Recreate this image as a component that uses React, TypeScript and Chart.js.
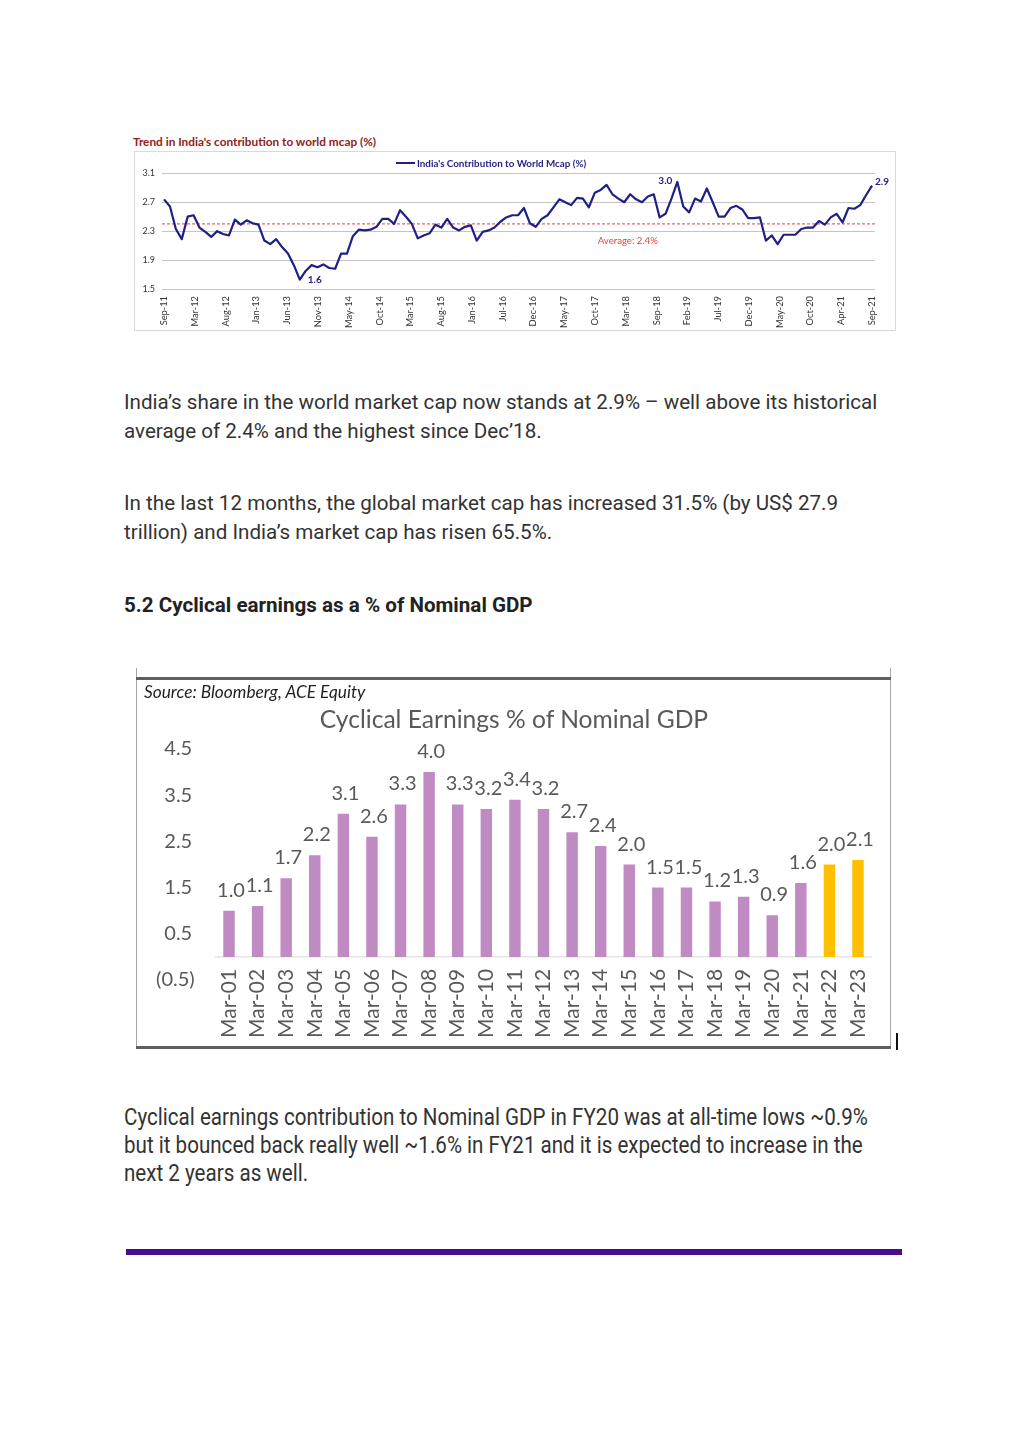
import React, { useEffect, useRef } from "react";
import { Chart, registerables } from "chart.js";

Chart.register(...registerables);

// ---------- Chart 1: India's contribution to world mcap (%) ----------
const mcapTickLabels = [
  "Sep-11", "Mar-12", "Aug-12", "Jan-13", "Jun-13", "Nov-13", "May-14", "Oct-14",
  "Mar-15", "Aug-15", "Jan-16", "Jul-16", "Dec-16", "May-17", "Oct-17", "Mar-18",
  "Sep-18", "Feb-19", "Jul-19", "Dec-19", "May-20", "Oct-20", "Apr-21", "Sep-21",
];

// monthly values, Sep-11 .. Sep-21
const mcapValues = [
  2.74, 2.64, 2.33, 2.19, 2.50, 2.52, 2.35, 2.29, 2.22, 2.30,
  2.26, 2.24, 2.46, 2.39, 2.45, 2.41, 2.39, 2.17, 2.12, 2.19,
  2.08, 1.99, 1.83, 1.63, 1.75, 1.83, 1.80, 1.84, 1.79, 1.78,
  1.99,
  1.99, 2.23, 2.32, 2.31, 2.32, 2.36, 2.47, 2.47, 2.40, 2.59,
  2.50, 2.40, 2.20, 2.24, 2.27, 2.39, 2.35, 2.47, 2.35, 2.31,
  2.36, 2.38, 2.17, 2.29, 2.31, 2.35, 2.43, 2.49, 2.52, 2.52,
  2.62,
  2.41, 2.36, 2.47, 2.52, 2.63, 2.74, 2.70, 2.66, 2.76, 2.75,
  2.63, 2.83, 2.87, 2.94, 2.81, 2.75, 2.70, 2.81, 2.74, 2.70,
  2.78, 2.81, 2.49, 2.54, 2.75, 2.98, 2.64, 2.56, 2.75, 2.71,
  2.89,
  2.70, 2.50, 2.50, 2.62, 2.65, 2.60, 2.48, 2.48, 2.49, 2.17,
  2.24, 2.12, 2.25, 2.25, 2.25, 2.33, 2.35, 2.35, 2.44, 2.39,
  2.49, 2.54, 2.42, 2.62, 2.61, 2.66, 2.80, 2.93,
];

const mcapYTicks = [1.5, 1.9, 2.3, 2.7, 3.1];
const mcapAverage = 2.4;
const mcapSeriesName = "India's Contribution to World Mcap (%)";

// ---------- Chart 2: Cyclical earnings % of nominal GDP ----------
const gdpYears = [
  "Mar-01", "Mar-02", "Mar-03", "Mar-04", "Mar-05", "Mar-06", "Mar-07", "Mar-08",
  "Mar-09", "Mar-10", "Mar-11", "Mar-12", "Mar-13", "Mar-14", "Mar-15", "Mar-16",
  "Mar-17", "Mar-18", "Mar-19", "Mar-20", "Mar-21", "Mar-22", "Mar-23",
];
const gdpValues = [
  1.0, 1.1, 1.7, 2.2, 3.1, 2.6, 3.3, 4.0, 3.3, 3.2, 3.4, 3.2,
  2.7, 2.4, 2.0, 1.5, 1.5, 1.2, 1.3, 0.9, 1.6, 2.0, 2.1,
];
const gdpEstimateYears = ["Mar-22", "Mar-23"];
const gdpYTicks = [-0.5, 0.5, 1.5, 2.5, 3.5, 4.5];

// ---------- styles ----------
const NAVY = "#1f1f86";
const RED = "#e8413b";
const GRID = "#c4c4c4";
const PURPLE = "#c08bc3";
const GOLD = "#ffc000";
const XLGRAY = "#595959";
const CAL = "Lato, 'Open Sans', sans-serif";

function McapChart() {
  const ref = useRef<HTMLCanvasElement | null>(null);
  useEffect(() => {
    if (!ref.current) return;
    const overlay = {
      id: "mcapOverlay",
      beforeDatasetsDraw(chart: any) {
        const { ctx, chartArea, scales } = chart;
        const yy = scales.y.getPixelForValue(mcapAverage);
        ctx.save();
        ctx.strokeStyle = RED;
        ctx.lineWidth = 1;
        ctx.setLineDash([3, 2]);
        ctx.beginPath();
        ctx.moveTo(chartArea.left, yy);
        ctx.lineTo(chartArea.right, yy);
        ctx.stroke();
        ctx.restore();
      },
      afterDatasetsDraw(chart: any) {
        const { ctx, scales } = chart;
        const meta = chart.getDatasetMeta(0);
        ctx.save();
        // average label
        ctx.fillStyle = RED;
        ctx.font = `9.6px ${CAL}`;
        ctx.textAlign = "center";
        ctx.textBaseline = "middle";
        ctx.fillText(
          `Average: ${mcapAverage.toFixed(1)}%`,
          scales.x.getPixelForValue(78.6),
          scales.y.getPixelForValue(mcapAverage) + 17
        );
        // point labels
        ctx.fillStyle = NAVY;
        ctx.font = `bold 10px ${CAL}`;
        let minI = 0;
        let maxI = 0;
        mcapValues.forEach((v, i) => {
          if (v < mcapValues[minI]) minI = i;
          if (v > mcapValues[maxI]) maxI = i;
        });
        const lastI = mcapValues.length - 1;
        const pMin = meta.data[minI];
        const pMax = meta.data[maxI];
        const pLast = meta.data[lastI];
        ctx.fillText(mcapValues[minI].toFixed(1), pMin.x + 15, pMin.y);
        ctx.fillText(mcapValues[maxI].toFixed(1), pMax.x - 12, pMax.y - 1);
        ctx.fillText(mcapValues[lastI].toFixed(1), pLast.x + 10, pLast.y - 4);
        // legend
        ctx.strokeStyle = NAVY;
        ctx.lineWidth = 2;
        ctx.beginPath();
        ctx.moveTo(261, 11);
        ctx.lineTo(280, 11);
        ctx.stroke();
        ctx.font = `bold 9.8px ${CAL}`;
        ctx.textAlign = "left";
        ctx.fillText(mcapSeriesName, 282, 11.5);
        ctx.restore();
      },
    };
    const chart = new Chart(ref.current, {
      type: "line",
      data: {
        datasets: [
          {
            label: mcapSeriesName,
            data: mcapValues.map((v, i) => ({ x: i, y: v })),
            borderColor: NAVY,
            borderWidth: 2.2,
            pointRadius: 0,
            tension: 0,
            borderJoinStyle: "round",
          },
        ],
      },
      options: {
        animation: false,
        responsive: true,
        maintainAspectRatio: false,
        layout: { padding: { top: 21.3, right: 21, left: 0, bottom: 0 } },
        plugins: { legend: { display: false }, tooltip: { enabled: false } },
        scales: {
          x: {
            type: "linear",
            min: -0.35,
            max: 120.5,
            grid: { display: false, drawTicks: false },
            border: { display: false },
            afterBuildTicks: (s: any) => {
              s.ticks = mcapTickLabels.map((_, i) => ({
                value: (i * (mcapValues.length - 1)) / (mcapTickLabels.length - 1),
              }));
            },
            ticks: {
              autoSkip: false,
              maxRotation: 90,
              minRotation: 90,
              padding: 7,
              color: "#333333",
              font: { family: CAL, size: 9.3 },
              callback: (_v: any, i: number) => mcapTickLabels[i],
            },
            afterFit: (s: any) => {
              s.height = 42;
            },
          },
          y: {
            min: 1.5,
            max: 3.1,
            afterBuildTicks: (s: any) => {
              s.ticks = mcapYTicks.map((v) => ({ value: v }));
            },
            grid: { color: GRID, lineWidth: 1, drawTicks: false },
            border: { display: false },
            ticks: {
              padding: 7,
              color: "#333333",
              font: { family: CAL, size: 9 },
              callback: (v: any) => Number(v).toFixed(1),
            },
            afterFit: (s: any) => {
              s.width = 27;
            },
          },
        },
      },
      plugins: [overlay],
    } as any);
    return () => chart.destroy();
  }, []);
  return (
    <>
      <div
        style={{
          position: "absolute",
          left: 134,
          top: 151,
          width: 762,
          height: 180,
          border: "1px solid #d9d9d9",
          boxSizing: "border-box",
        }}
      />
      <div style={{ position: "absolute", left: 135, top: 152, width: 761, height: 179 }}>
        <canvas ref={ref} />
      </div>
    </>
  );
}

function GdpChart() {
  const ref = useRef<HTMLCanvasElement | null>(null);
  useEffect(() => {
    if (!ref.current) return;
    const overlay = {
      id: "gdpOverlay",
      beforeDatasetsDraw(chart: any) {
        const { ctx, chartArea, scales } = chart;
        const y0 = scales.y.getPixelForValue(0);
        ctx.save();
        ctx.strokeStyle = "#d9d9d9";
        ctx.lineWidth = 1;
        ctx.beginPath();
        ctx.moveTo(chartArea.left, y0);
        ctx.lineTo(chartArea.right, y0);
        ctx.stroke();
        ctx.restore();
      },
      afterDatasetsDraw(chart: any) {
        const { ctx, scales } = chart;
        const meta = chart.getDatasetMeta(0);
        const y0 = scales.y.getPixelForValue(0);
        ctx.save();
        ctx.fillStyle = XLGRAY;
        ctx.font = `20px ${CAL}`;
        ctx.textAlign = "center";
        ctx.textBaseline = "alphabetic";
        meta.data.forEach((bar: any, i: number) => {
          ctx.fillText(gdpValues[i].toFixed(1), bar.x + 2, bar.y - 14);
        });
        // category labels, rotated, hanging just below the zero line
        ctx.font = `21px ${CAL}`;
        ctx.textAlign = "right";
        ctx.textBaseline = "middle";
        meta.data.forEach((bar: any, i: number) => {
          ctx.save();
          ctx.translate(bar.x, y0 + 12);
          ctx.rotate(-Math.PI / 2);
          ctx.fillText(gdpYears[i], 0, 0);
          ctx.restore();
        });
        ctx.restore();
      },
    };
    const chart = new Chart(ref.current, {
      type: "bar",
      data: {
        labels: gdpYears,
        datasets: [
          {
            data: gdpValues,
            backgroundColor: gdpYears.map((y) => (gdpEstimateYears.includes(y) ? GOLD : PURPLE)),
            barPercentage: 0.4,
            categoryPercentage: 1,
          },
        ],
      },
      options: {
        animation: false,
        responsive: true,
        maintainAspectRatio: false,
        layout: { padding: { top: 70, right: 17.7, left: 0, bottom: 0 } },
        plugins: { legend: { display: false }, tooltip: { enabled: false } },
        scales: {
          x: {
            grid: { display: false, drawTicks: false },
            border: { display: false },
            ticks: { display: false },
            afterFit: (s: any) => {
              s.height = 68;
            },
          },
          y: {
            min: -0.5,
            max: 4.5,
            afterBuildTicks: (s: any) => {
              s.ticks = gdpYTicks.map((v) => ({ value: v }));
            },
            grid: { display: false, drawTicks: false },
            border: { display: false },
            ticks: {
              padding: 20,
              color: XLGRAY,
              font: { family: CAL, size: 20 },
              callback: (v: any) => {
                const n = Number(v);
                return n < 0 ? `(${Math.abs(n).toFixed(1)})` : `${n.toFixed(1)}\u2009`;
              },
            },
            afterFit: (s: any) => {
              s.width = 77.7;
            },
          },
        },
      },
      plugins: [overlay],
    } as any);
    return () => chart.destroy();
  }, []);
  return (
    <>
      <div style={{ position: "absolute", left: 137, top: 679, width: 753, height: 369 }}>
        <canvas ref={ref} />
      </div>
      <div style={{ position: "absolute", left: 136, top: 668, width: 1, height: 381, background: "#a6a6a6" }} />
      <div style={{ position: "absolute", left: 890, top: 668, width: 1, height: 381, background: "#a6a6a6" }} />
      <div style={{ position: "absolute", left: 136, top: 677, width: 755, height: 3, background: "#5f5f5f" }} />
      <div style={{ position: "absolute", left: 136, top: 1046, width: 755, height: 3, background: "#5f5f5f" }} />
      <div style={{ position: "absolute", left: 896, top: 1033, width: 2, height: 17, background: "#111" }} />
      <div
        style={{
          position: "absolute",
          left: 144,
          top: 681,
          lineHeight: "22px",
          font: `italic 17.3px ${CAL}`,
          color: "#1f1f1f",
          whiteSpace: "nowrap",
        }}
      >
        Source: Bloomberg, ACE Equity
      </div>
      <div
        style={{
          position: "absolute",
          left: 214,
          width: 600,
          top: 704,
          lineHeight: "30px",
          font: `24.6px ${CAL}`,
          color: XLGRAY,
          textAlign: "center",
          whiteSpace: "nowrap",
        }}
      >
        Cyclical Earnings % of Nominal GDP
      </div>
    </>
  );
}

const para: React.CSSProperties = {
  position: "absolute",
  left: 124,
  fontFamily: "Roboto, sans-serif",
  fontSize: 20.6,
  lineHeight: "29px",
  color: "#333333",
  whiteSpace: "nowrap",
};

export default function App() {
  return (
    <div
      style={{
        position: "absolute",
        left: 0,
        top: 0,
        width: 1024,
        height: 1446,
        background: "#ffffff",
        overflow: "hidden",
      }}
    >
      <div
        style={{
          position: "absolute",
          left: 133,
          top: 134,
          font: `bold 11.8px ${CAL}`,
          lineHeight: "16px",
          color: "#902020",
          whiteSpace: "nowrap",
        }}
      >
        Trend in India's contribution to world mcap (%)
      </div>
      <McapChart />
      <div style={{ ...para, top: 388 }}>
        India’s share in the world market cap now stands at 2.9% – well above its historical
        <br />
        average of 2.4% and the highest since Dec’18.
      </div>
      <div style={{ ...para, top: 489 }}>
        In the last 12 months, the global market cap has increased 31.5% (by US$ 27.9
        <br />
        trillion) and India’s market cap has risen 65.5%.
      </div>
      <div style={{ ...para, top: 591, fontWeight: 700, color: "#222" }}>
        5.2 Cyclical earnings as a % of Nominal GDP
      </div>
      <GdpChart />
      <div
        style={{
          ...para,
          top: 1104,
          fontSize: 23,
          lineHeight: "28px",
          transform: "scaleX(0.895)",
          transformOrigin: "0 0",
        }}
      >
        Cyclical earnings contribution to Nominal GDP in FY20 was at all-time lows ~0.9%
        <br />
        but it bounced back really well ~1.6% in FY21 and it is expected to increase in the
        <br />
        next 2 years as well.
      </div>
      <div
        style={{ position: "absolute", left: 126, top: 1249, width: 776, height: 6, background: "#4b0a92" }}
      />
    </div>
  );
}
